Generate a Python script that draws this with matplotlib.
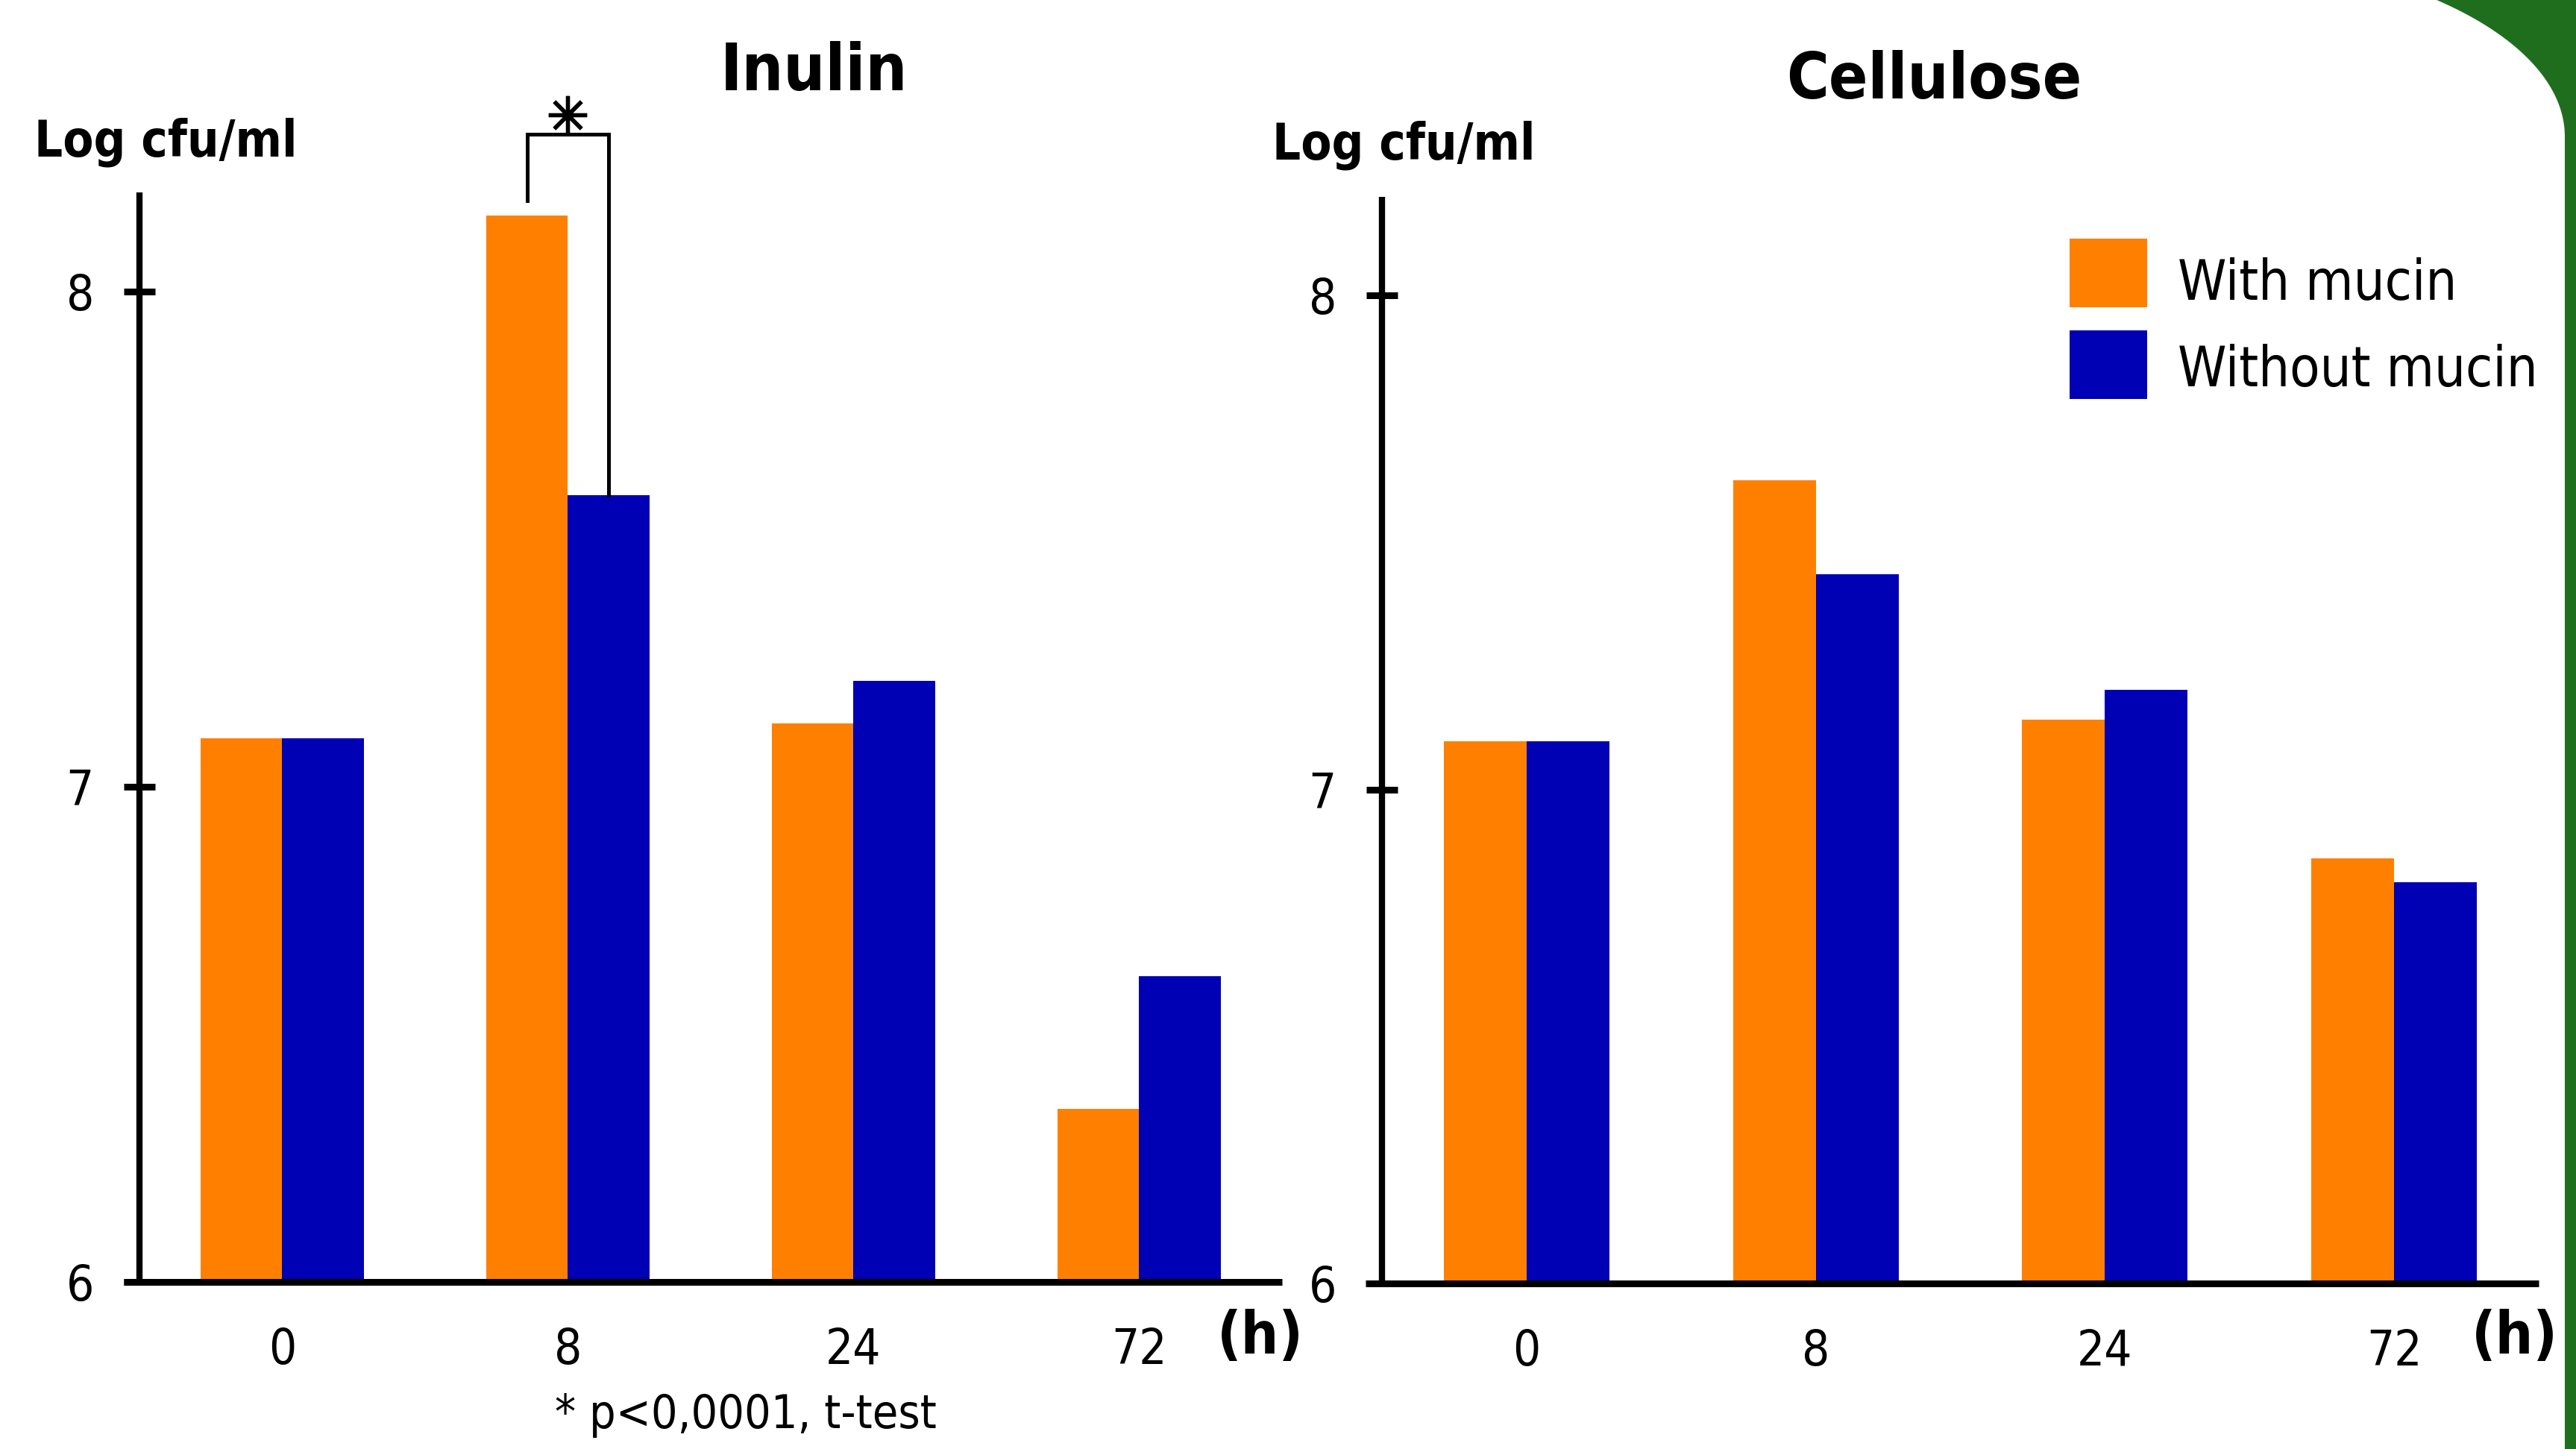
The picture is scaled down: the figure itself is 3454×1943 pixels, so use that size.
import os
import numpy as np
import matplotlib
matplotlib.use("Agg")
import matplotlib.pyplot as plt
from matplotlib import font_manager as fm
from matplotlib.font_manager import FontProperties
from matplotlib.patches import Polygon, Rectangle

# ---------------- data ----------------
hours = ["0", "8", "24", "72"]
series_labels = ["With mucin", "Without mucin"]
inulin_with = [7.097, 8.153, 7.128, 6.349]
inulin_without = [7.097, 7.588, 7.213, 6.618]
cellulose_with = [7.097, 7.626, 7.141, 6.860]
cellulose_without = [7.097, 7.436, 7.202, 6.812]
panel_titles = ["Inulin", "Cellulose"]
ytick_vals = [6, 7, 8]
ytick_labels = ["6", "7", "8"]
y_label = "Log cfu/ml"
x_unit = "(h)"
footnote = "* p<0,0001, t-test"

ORANGE = "#FF8000"
BLUE = "#0000B4"
GREEN = "#1E6E1E"
series_colors = [ORANGE, BLUE]

W, H = 3455, 1943
DPI = 100

# ---------------- fonts ----------------
def find_font(basename):
    for f in fm.fontManager.ttflist:
        if os.path.basename(f.fname) == basename:
            return f.fname
    return None

REG = find_font("DejaVuSansCondensed.ttf")
BOLD = find_font("DejaVuSansCondensed-Bold.ttf")


def fp(size, bold=False):
    path = BOLD if bold else REG
    if path:
        return FontProperties(fname=path, size=size)
    return FontProperties(family="DejaVu Sans", weight="bold" if bold else "normal",
                          size=size * 0.92)


def fx(px):
    return px / W


def fy(py):
    return 1 - py / H


fig = plt.figure(figsize=(W / DPI, H / DPI), dpi=DPI)
fig.patch.set_facecolor("white")

# ---------------- green slide corner ----------------
ys = np.linspace(0, 183, 60)
rx, ry, cxp, cyp = 539.0, 250.0, 3439 - 539.0, 183.0
xs = cxp + rx * np.sqrt(1 - ((cyp - ys) / ry) ** 2)
pts = [(fx(x), fy(y)) for x, y in zip(xs, ys)]
pts += [(fx(3439), fy(H)), (fx(W), fy(H)), (fx(W), fy(0))]
fig.add_artist(Polygon(pts, closed=True, transform=fig.transFigure,
                       facecolor=GREEN, edgecolor="none", zorder=-5))

# ---------------- axes ----------------
ax1 = fig.add_axes([fx(187), fy(1719), (1719 - 187) / W, (1719 - 258) / H])
ax2 = fig.add_axes([fx(1853), fy(1721), (3404 - 1853) / W, (1721 - 264) / H])

x = np.arange(len(hours))
bw = 0.286

for ax, vw, vwo in [(ax1, inulin_with, inulin_without),
                    (ax2, cellulose_with, cellulose_without)]:
    ax.bar(x - bw / 2, vw, bw, color=ORANGE, edgecolor="none", label=series_labels[0])
    ax.bar(x + bw / 2, vwo, bw, color=BLUE, edgecolor="none", label=series_labels[1])
    ax.set_xlim(-0.5, 3.5)
    ax.set_ylim(6, 8.2)
    ax.set_facecolor("none")
    for s in ["top", "right", "bottom"]:
        ax.spines[s].set_visible(False)
    ax.spines["left"].set_linewidth(6)
    ax.spines["left"].set_capstyle("butt")
    # x-axis line (extends slightly left of the y-axis)
    ax.plot([-0.014, 1.0], [0, 0], transform=ax.transAxes, color="black",
            lw=6.5, clip_on=False, solid_capstyle="butt", zorder=5)
    ax.set_yticks(ytick_vals)
    ax.set_yticklabels(ytick_labels, fontproperties=fp(47))
    ax.tick_params(axis="y", direction="inout", length=30, width=6.5, pad=29)
    ax.set_xticks(x)
    ax.set_xticklabels(hours, fontproperties=fp(47))
    ax.tick_params(axis="x", length=0, pad=43)

# ---------------- significance bracket (Inulin, 8 h) ----------------
xl = x[1] - bw / 2
xr = x[1] + bw / 2
ytop = 8.318
ax1.plot([xl, xl, xr, xr], [inulin_with[1] + 0.03, ytop, ytop, inulin_without[1]],
         color="black", lw=3.6, clip_on=False, solid_joinstyle="miter", zorder=6)
ax1.plot([x[1]], [8.356], marker=(8, 2, 0), ms=37, mew=3.8, color="black",
         clip_on=False, zorder=6)

# ---------------- texts ----------------
fig.text(fx(1091), fy(121), panel_titles[0], ha="center", va="baseline",
         fontproperties=fp(63, bold=True))
fig.text(fx(2593), fy(132), panel_titles[1], ha="center", va="baseline",
         fontproperties=fp(62, bold=True))
fig.text(fx(46), fy(210), y_label, ha="left", va="baseline",
         fontproperties=fp(48, bold=True))
fig.text(fx(1706), fy(214), y_label, ha="left", va="baseline",
         fontproperties=fp(48, bold=True))
fig.text(fx(1690), fy(1815), x_unit, ha="center", va="baseline",
         fontproperties=fp(57, bold=True))
fig.text(fx(3372), fy(1815), x_unit, ha="center", va="baseline",
         fontproperties=fp(57, bold=True))
fig.text(fx(1000), fy(1915), footnote, ha="center", va="baseline",
         fontproperties=fp(45))

# ---------------- legend (drawn manually in figure pixels) ----------------
legend_rows = [(320, 402), (443, 518)]  # (square top px, text baseline px)
for (top, base), lab, col in zip(legend_rows, series_labels, series_colors):
    fig.add_artist(Rectangle((fx(2775), fy(top + 92)), 104 / W, 92 / H,
                             transform=fig.transFigure, facecolor=col,
                             edgecolor="none"))
    fig.text(fx(2920), fy(base), lab, ha="left", va="baseline",
             fontproperties=fp(53))

fig.savefig("out.png", dpi=DPI, facecolor="white")
